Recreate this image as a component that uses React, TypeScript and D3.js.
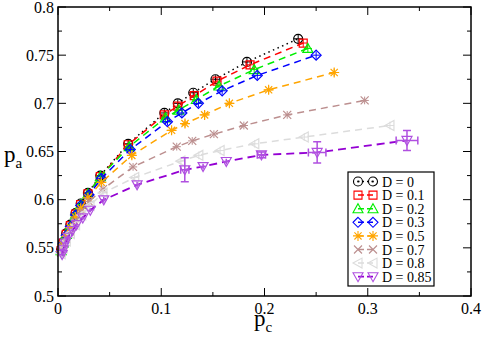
import React from "react";
import * as d3 from "d3";

const WIDTH = 483;
const HEIGHT = 337;
const M = { left: 58, right: 12, top: 7, bottom: 41 };

// data (pc, pa) for each D
const pcD0 = [0.003, 0.005, 0.008, 0.012, 0.017, 0.022, 0.029, 0.041, 0.068, 0.103, 0.116, 0.131, 0.1525, 0.183, 0.2326];
const paD0 = [0.548, 0.556, 0.565, 0.574, 0.586, 0.596, 0.607, 0.625, 0.658, 0.69, 0.7, 0.711, 0.725, 0.743, 0.767];

const pcD1 = [0.003, 0.005, 0.008, 0.012, 0.017, 0.022, 0.029, 0.041, 0.068, 0.103, 0.116, 0.132, 0.154, 0.186, 0.2375];
const paD1 = [0.547, 0.555, 0.564, 0.573, 0.585, 0.595, 0.606, 0.624, 0.657, 0.688, 0.697, 0.708, 0.723, 0.74, 0.7626];

const pcD2 = [0.003, 0.005, 0.008, 0.012, 0.017, 0.022, 0.029, 0.041, 0.069, 0.104, 0.117, 0.134, 0.156, 0.19, 0.242];
const paD2 = [0.547, 0.555, 0.564, 0.573, 0.585, 0.595, 0.606, 0.624, 0.655, 0.685, 0.693, 0.704, 0.718, 0.735, 0.757];

const pcD3 = [0.003, 0.005, 0.008, 0.012, 0.017, 0.022, 0.03, 0.042, 0.07, 0.106, 0.12, 0.136, 0.159, 0.193, 0.25];
const paD3 = [0.546, 0.554, 0.563, 0.572, 0.584, 0.594, 0.605, 0.622, 0.652, 0.681, 0.69, 0.7, 0.713, 0.729, 0.75];

const pcD5 = [0.003, 0.005, 0.008, 0.012, 0.017, 0.022, 0.029, 0.042, 0.0715, 0.11, 0.123, 0.142, 0.166, 0.204, 0.2675];
const paD5 = [0.546, 0.553, 0.562, 0.571, 0.582, 0.591, 0.602, 0.618, 0.646, 0.672, 0.679, 0.688, 0.7, 0.714, 0.732];

const pcD7 = [0.003, 0.005, 0.008, 0.012, 0.017, 0.022, 0.03, 0.0436, 0.0727, 0.115, 0.13, 0.151, 0.18, 0.222, 0.297];
const paD7 = [0.545, 0.551, 0.559, 0.567, 0.577, 0.587, 0.598, 0.611, 0.634, 0.655, 0.661, 0.668, 0.677, 0.688, 0.703];

const pcD8 = [0.003, 0.005, 0.008, 0.012, 0.017, 0.023, 0.031, 0.0436, 0.0743, 0.119, 0.1364, 0.157, 0.1906, 0.2385, 0.3215];
const paD8 = [0.544, 0.55, 0.557, 0.565, 0.574, 0.584, 0.594, 0.607, 0.623, 0.64, 0.646, 0.651, 0.658, 0.665, 0.677];

const pcD85 = [0.004, 0.005, 0.007, 0.0097, 0.014, 0.018, 0.024, 0.0313, 0.0443, 0.0766, 0.1228, 0.1405, 0.163, 0.197, 0.251, 0.338];
const paD85 = [0.543, 0.548, 0.555, 0.561, 0.568, 0.574, 0.581, 0.589, 0.5998, 0.6154, 0.631, 0.6344, 0.6396, 0.6465, 0.649, 0.6615];
const exD85 = [0.002, 0.002, 0.002, 0.002, 0.002, 0.002, 0.002, 0.002, 0.003, 0.003, 0.004, 0.003, 0.003, 0.004, 0.0085, 0.0105];
const eyD85 = [0.002, 0.002, 0.002, 0.002, 0.002, 0.002, 0.002, 0.002, 0.003, 0.003, 0.0125, 0.003, 0.003, 0.003, 0.011, 0.0104];

const xTicks = [0, 0.1, 0.2, 0.3, 0.4];
const yTicks = [0.5, 0.55, 0.6, 0.65, 0.7, 0.75, 0.8];

type Series = {
  label: string;
  pc: number[];
  pa: number[];
  ex?: number[];
  ey?: number[];
  color: string;
  markColor?: string;
  shape: string;
  dash: string;
  width: number;
};

const series: Series[] = [
  { label: "D = 0", pc: pcD0, pa: paD0, color: "#000000", shape: "circle", dash: "1.5,3.5", width: 1.5 },
  { label: "D = 0.1", pc: pcD1, pa: paD1, color: "#ff0000", shape: "square", dash: "7,5", width: 1.5 },
  { label: "D = 0.2", pc: pcD2, pa: paD2, color: "#00ee00", shape: "triUp", dash: "7,5", width: 1.5 },
  { label: "D = 0.3", pc: pcD3, pa: paD3, color: "#0000ff", shape: "diamond", dash: "7,5", width: 1.5 },
  { label: "D = 0.5", pc: pcD5, pa: paD5, color: "#ffa500", shape: "star", dash: "7,5", width: 1.5 },
  { label: "D = 0.7", pc: pcD7, pa: paD7, color: "#bc8f8f", shape: "x", dash: "7,5", width: 1.5 },
  { label: "D = 0.8", pc: pcD8, pa: paD8, color: "#dcdcdc", shape: "triLeft", dash: "7,5", width: 1.5 },
  {
    label: "D = 0.85", pc: pcD85, pa: paD85, ex: exD85, ey: eyD85,
    color: "#9400d3", markColor: "#b050e0", shape: "triDown", dash: "8,5", width: 1.8,
  },
];

function markerPath(shape: string, x: number, y: number) {
  const r = 4.5;
  switch (shape) {
    case "circle":
      return `M${x - r},${y}a${r},${r} 0 1,0 ${2 * r},0a${r},${r} 0 1,0 ${-2 * r},0`;
    case "square":
      return `M${x - 4},${y - 4}h8v8h-8z`;
    case "triUp":
      return `M${x},${y - 5}L${x + 5},${y + 4}L${x - 5},${y + 4}z`;
    case "triDown":
      return `M${x},${y + 5}L${x + 5},${y - 4}L${x - 5},${y - 4}z`;
    case "triLeft":
      return `M${x - 5},${y}L${x + 4},${y - 5}L${x + 4},${y + 5}z`;
    case "diamond":
      return `M${x},${y - 5}L${x + 5},${y}L${x},${y + 5}L${x - 5},${y}z`;
    case "x":
      return `M${x - 4},${y - 4}L${x + 4},${y + 4}M${x - 4},${y + 4}L${x + 4},${y - 4}`;
    case "star":
      return `M${x - 5},${y}H${x + 5}M${x},${y - 5}V${y + 5}M${x - 3.6},${y - 3.6}L${x + 3.6},${y + 3.6}M${x - 3.6},${y + 3.6}L${x + 3.6},${y - 3.6}`;
    default:
      return "";
  }
}

export default function App() {
  const x = d3.scaleLinear().domain([0, 0.4]).range([M.left, WIDTH - M.right]);
  const y = d3.scaleLinear().domain([0.5, 0.8]).range([HEIGHT - M.bottom, M.top]);
  const line = d3.line<[number, number]>().x((d) => x(d[0])).y((d) => y(d[1]));

  const xMinor = d3.range(0, 0.4001, 0.05);
  const yMinor = d3.range(0.5, 0.8001, 0.025);
  const x0 = M.left;
  const x1 = WIDTH - M.right;
  const y0 = HEIGHT - M.bottom;
  const y1 = M.top;

  const lg = { x: 348, y: 172, w: 86, h: 114, row: 13.6 };

  return (
    <svg
      width={WIDTH}
      height={HEIGHT}
      style={{ position: "absolute", left: 0, top: 0, background: "#fff", fontFamily: "'Liberation Serif', 'DejaVu Serif', serif" }}
    >
      {/* ticks, all four sides pointing in */}
      <g stroke="#000" strokeWidth={1}>
        {xMinor.map((t, i) => {
          const len = i % 2 === 0 ? 8 : 4;
          return (
            <g key={"xt" + i}>
              <line x1={x(t)} x2={x(t)} y1={y0} y2={y0 - len} />
              <line x1={x(t)} x2={x(t)} y1={y1} y2={y1 + len} />
            </g>
          );
        })}
        {yMinor.map((t, i) => {
          const len = i % 2 === 0 ? 8 : 4;
          return (
            <g key={"yt" + i}>
              <line x1={x0} x2={x0 + len} y1={y(t)} y2={y(t)} />
              <line x1={x1} x2={x1 - len} y1={y(t)} y2={y(t)} />
            </g>
          );
        })}
      </g>

      {xTicks.map((t) => (
        <text key={"xl" + t} x={x(t)} y={y0 + 18} fontSize={16} textAnchor="middle">
          {t === 0 ? "0" : String(t)}
        </text>
      ))}
      {yTicks.map((t) => (
        <text key={"yl" + t} x={x0 - 4} y={y(t) + 5.5} fontSize={16} textAnchor="end">
          {String(t)}
        </text>
      ))}

      <text x={4} y={162} fontSize={23}>
        p<tspan fontSize={15} dy={6}>a</tspan>
      </text>
      <text x={254} y={326} fontSize={23}>
        p<tspan fontSize={15} dy={6}>c</tspan>
      </text>

      {/* series */}
      {series.map((s) => {
        const pts = s.pc.map((v, i) => [v, s.pa[i]] as [number, number]);
        const mc = s.markColor || s.color;
        return (
          <g key={s.label}>
            <path d={line(pts) || ""} fill="none" stroke={s.color} strokeWidth={s.width} strokeDasharray={s.dash} />
            {pts.map((p, i) => {
              const ex = s.ex ? s.ex[i] : 0.004;
              const ey = s.ey ? s.ey[i] : 0.004;
              const px = x(p[0]);
              const py = y(p[1]);
              const xa = x(p[0] - ex);
              const xb = x(p[0] + ex);
              const ya = y(p[1] - ey);
              const yb = y(p[1] + ey);
              const cap = s.ex && (ex > 0.003 || ey > 0.003) ? 4 : 0;
              return (
                <g key={i} stroke={mc} strokeWidth={1} fill="none">
                  <path
                    d={`M${xa},${py}H${xb}M${px},${ya}V${yb}` +
                      (cap ? `M${xa},${py - cap}V${py + cap}M${xb},${py - cap}V${py + cap}M${px - cap},${ya}H${px + cap}M${px - cap},${yb}H${px + cap}` : "")}
                    strokeWidth={s.ex ? 1.5 : 1}
                  />
                  <path d={markerPath(s.shape, px, py)} strokeWidth={1.2} />
                </g>
              );
            })}
          </g>
        );
      })}

      {/* frame */}
      <rect x={x0} y={y1} width={x1 - x0} height={y0 - y1} fill="none" stroke="#000" strokeWidth={1.5} />

      {/* legend */}
      <rect x={lg.x} y={lg.y} width={lg.w} height={lg.h} fill="#fff" stroke="#000" strokeWidth={1.2} />
      {series.map((s, i) => {
        const cy = lg.y + 9.5 + i * lg.row;
        const mc = s.markColor || s.color;
        return (
          <g key={"lg" + s.label}>
            <line x1={lg.x + 10} x2={lg.x + 25} y1={cy} y2={cy} stroke={s.color} strokeWidth={s.width} strokeDasharray={s.shape === "circle" ? "1.5,3" : "6,3"} />
            <path d={markerPath(s.shape, lg.x + 10, cy)} fill="none" stroke={mc} strokeWidth={1.1} />
            <path d={markerPath(s.shape, lg.x + 25, cy)} fill="none" stroke={mc} strokeWidth={1.1} />
            {s.shape === "circle" && (
              <g fill="#000">
                <circle cx={lg.x + 10} cy={cy} r={0.9} />
                <circle cx={lg.x + 25} cy={cy} r={0.9} />
              </g>
            )}
            <text x={lg.x + 34} y={cy + 5} fontSize={14}>
              {s.label}
            </text>
          </g>
        );
      })}
    </svg>
  );
}
